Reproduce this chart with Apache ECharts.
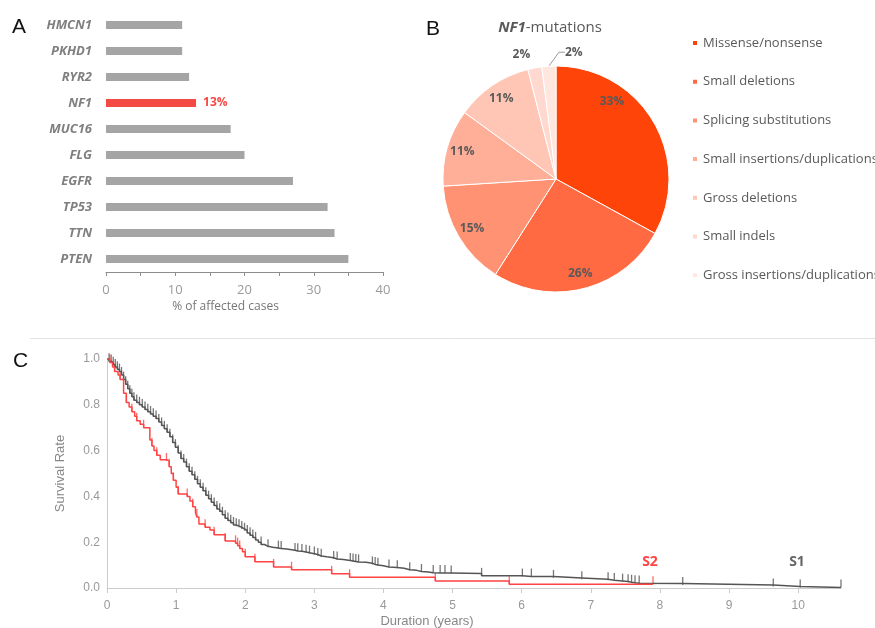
<!DOCTYPE html>
<html><head><meta charset="utf-8">
<script src="https://cdn.jsdelivr.net/npm/echarts@6/dist/echarts.min.js"></script>
<style>html,body{margin:0;padding:0;background:#fff}#c{width:875px;height:628px}</style>
</head><body><div id="c"></div>
<script>
// ---- Panel A data ----
const genes = ['HMCN1','PKHD1','RYR2','NF1','MUC16','FLG','EGFR','TP53','TTN','PTEN'];
const affectedPct = [11, 11, 12, 13, 18, 20, 27, 32, 33, 35];
const barTicks = [0, 10, 20, 30, 40];

// ---- Panel B data ----
const mutationTypes = ['Missense/nonsense','Small deletions','Splicing substitutions','Small insertions/duplications','Gross deletions','Small indels','Gross insertions/duplications'];
const mutationPct = [33, 26, 15, 11, 11, 2, 2];
const mutationColors = ['#fe4408','#ff6a42','#ff9272','#ffae98','#ffc6b6','#ffd9cf','#ffe7e0'];

// ---- Panel C data: [years, survival rate, censor tick (1/0)] ----
const s1Curve = [
 [0,1.0,0],[0.03,0.99,1],[0.06,0.985,1],[0.09,0.975,1],[0.12,0.965,1],[0.15,0.955,1],[0.18,0.945,1],
 [0.21,0.93,1],[0.24,0.91,1],[0.27,0.89,1],[0.30,0.87,1],[0.33,0.85,1],[0.36,0.835,1],[0.39,0.82,1],
 [0.43,0.81,1],[0.47,0.80,1],[0.51,0.79,1],[0.55,0.78,1],[0.59,0.77,1],[0.63,0.76,1],[0.67,0.75,1],
 [0.71,0.74,1],[0.75,0.725,1],[0.79,0.71,1],[0.83,0.695,1],[0.87,0.68,1],[0.91,0.66,1],[0.95,0.635,1],
 [0.99,0.615,1],[1.03,0.59,1],[1.07,0.565,1],[1.11,0.55,1],[1.15,0.53,1],[1.19,0.51,1],[1.23,0.495,1],
 [1.27,0.475,1],[1.31,0.455,1],[1.35,0.44,1],[1.39,0.425,1],[1.43,0.405,1],[1.47,0.39,1],[1.51,0.375,1],
 [1.55,0.36,1],[1.59,0.345,1],[1.63,0.335,1],[1.67,0.32,1],[1.71,0.305,1],[1.75,0.295,1],[1.79,0.285,1],
 [1.83,0.275,1],[1.87,0.27,1],[1.91,0.265,1],[1.95,0.258,1],[1.99,0.25,1],[2.03,0.24,1],[2.07,0.23,1],
 [2.11,0.22,1],[2.15,0.21,1],[2.19,0.2,0],[2.23,0.19,1],[2.28,0.182,0],[2.33,0.178,1],[2.40,0.175,0],
 [2.48,0.172,1],[2.52,0.17,1],[2.60,0.165,0],[2.72,0.162,1],[2.76,0.16,1],[2.82,0.157,1],[2.88,0.154,1],
 [2.93,0.15,1],[3.0,0.146,1],[3.05,0.14,1],[3.1,0.136,1],[3.18,0.132,0],[3.28,0.127,1],[3.33,0.124,1],
 [3.42,0.12,0],[3.52,0.118,1],[3.56,0.116,1],[3.6,0.114,1],[3.64,0.112,1],[3.75,0.108,0],[3.84,0.103,1],
 [3.88,0.1,1],[3.92,0.097,1],[4.0,0.092,0],[4.08,0.09,1],[4.2,0.086,1],[4.3,0.08,0],[4.38,0.077,1],
 [4.48,0.072,0],[4.55,0.07,1],[4.65,0.067,0],[4.72,0.066,1],[4.82,0.065,1],[4.89,0.065,1],[4.98,0.063,1],
 [5.42,0.053,1],[6.01,0.05,1],[6.14,0.05,1],[6.46,0.044,1],[6.87,0.038,1],[7.25,0.034,1],[7.34,0.031,1],
 [7.46,0.028,1],[7.54,0.025,1],[7.59,0.023,1],[7.64,0.021,1],[7.7,0.02,1],[8.33,0.013,1],[9.64,0.007,1],
 [10.03,0.002,1],[10.62,0.002,1]
];
const s2Curve = [
 [0,1.0,0],[0.04,0.985,1],[0.08,0.965,0],[0.11,0.945,1],[0.16,0.93,0],[0.19,0.91,1],[0.24,0.85,0],
 [0.28,0.81,1],[0.32,0.79,0],[0.36,0.77,1],[0.40,0.75,0],[0.43,0.73,1],[0.48,0.715,0],[0.53,0.70,1],
 [0.62,0.646,0],[0.65,0.62,1],[0.68,0.60,0],[0.72,0.58,1],[0.77,0.56,0],[0.86,0.555,1],[0.9,0.53,1],
 [0.93,0.5,0],[0.96,0.47,1],[1.0,0.44,0],[1.03,0.41,1],[1.16,0.40,1],[1.2,0.38,0],[1.24,0.355,1],
 [1.28,0.33,0],[1.3,0.31,1],[1.33,0.28,0],[1.42,0.265,1],[1.49,0.253,0],[1.55,0.232,1],[1.71,0.205,1],
 [1.86,0.195,1],[1.89,0.185,1],[1.92,0.173,1],[1.96,0.158,0],[2.0,0.137,1],[2.14,0.115,1],[2.41,0.092,1],
 [2.67,0.08,1],[3.25,0.062,1],[3.51,0.047,1],[4.75,0.031,1],[5.82,0.016,1],[7.9,0.016,1]
];
const survivalTicks = [0, 0.2, 0.4, 0.6, 0.8, 1.0];

const RED = '#f44a46';
const CRED = '#ff4343';
const GREY_LINE = '#555555';

const chart = echarts.init(document.getElementById('c'), null, {renderer: 'canvas'});

const barData = affectedPct.map((v, i) => genes[i] === 'NF1'
  ? {value: v, itemStyle: {color: RED}, label: {show: true, position: 'right', distance: 7, formatter: '{c}%', color: RED, fontWeight: 'bold', fontSize: 12}}
  : v);

const pieData = mutationPct.map((v, i) => ({name: mutationTypes[i], value: v, itemStyle: {color: mutationColors[i]}}));
const ringData = mutationPct.map((v, i) => {
  const d = {name: mutationTypes[i], value: v};
  if (i === 5) { d.label = {position: 'outside', distanceToLabelLine: 2}; d.labelLine = {show: false, length: 14, length2: 0}; }
  if (i === 6) { d.label = {position: 'outside'}; d.labelLine = {show: true, length: 6, length2: 6, lineStyle: {color: '#9a9a9a', width: 1}}; }
  return d;
});

const option = {
  animation: false,
  textStyle: {fontFamily: 'Open Sans'},
  grid: [
    {left: 106, top: 12, width: 277, height: 260},
    {left: 107, top: 359, width: 734, height: 229}
  ],
  legend: {
    data: mutationTypes, orient: 'vertical', left: 691, top: 35, padding: 0,
    itemWidth: 6, itemHeight: 6, itemGap: 22.7, icon: 'rect', selectedMode: false,
    textStyle: {color: '#595959', fontSize: 13, lineHeight: 16, fontFamily: 'Open Sans'}
  },
  xAxis: [
    {gridIndex: 0, type: 'value', min: barTicks[0], max: barTicks[barTicks.length - 1], interval: 10,
     axisLine: {show: true, lineStyle: {color: '#8c8c8c'}},
     axisTick: {show: true, length: 4, lineStyle: {color: '#8c8c8c'}},
     minorTick: {show: true, splitNumber: 2, length: 4, lineStyle: {color: '#8c8c8c'}},
     splitLine: {show: false}, minorSplitLine: {show: false},
     axisLabel: {color: '#9a9a9a', fontSize: 13, margin: 12},
     name: '% of affected cases', nameLocation: 'middle', nameGap: 29,
     nameTextStyle: {color: '#777', fontSize: 12, padding: [0, 38, 0, 0]}},
    {gridIndex: 1, type: 'value', min: 0, max: 10.62, interval: 1,
     axisLine: {show: true, lineStyle: {color: '#cccccc'}},
     axisTick: {show: true, length: 5, lineStyle: {color: '#cccccc'}},
     splitLine: {show: false},
     axisLabel: {color: '#999', fontSize: 12, margin: 12, showMaxLabel: false, fontFamily: 'Liberation Sans'}}
  ],
  yAxis: [
    {gridIndex: 0, type: 'category', data: genes, inverse: true,
     axisLine: {show: false}, axisTick: {show: false},
     axisLabel: {color: '#7f7f7f', fontWeight: 'bold', fontStyle: 'italic', fontSize: 13, margin: 14}},
    {gridIndex: 1, type: 'value', min: survivalTicks[0], max: survivalTicks[survivalTicks.length - 1], interval: 0.2,
     axisLine: {show: true, lineStyle: {color: '#cccccc'}}, axisTick: {show: false}, splitLine: {show: false},
     axisLabel: {formatter: v => v.toFixed(1), color: '#999', fontSize: 12, margin: 7, fontFamily: 'Liberation Sans'},
     name: 'Survival Rate', nameLocation: 'middle', nameRotate: 90, nameGap: 40,
     nameTextStyle: {color: '#888', fontSize: 13, fontFamily: 'Liberation Sans'}}
  ],
  series: [
    {type: 'bar', xAxisIndex: 0, yAxisIndex: 0, data: barData, barWidth: 8, itemStyle: {color: '#a5a5a5'}},
    {type: 'pie', center: [556, 179], radius: [0, 113], startAngle: 90, clockwise: true,
     label: {show: false}, labelLine: {show: false},
     itemStyle: {borderColor: '#fff', borderWidth: 1}, emphasis: {disabled: true}, data: pieData},
    {type: 'pie', center: [556, 179], radius: [76, 113], startAngle: 90, clockwise: true, silent: true,
     avoidLabelOverlap: false,
     itemStyle: {color: 'rgba(0,0,0,0)', borderWidth: 0},
     label: {show: true, position: 'inside', formatter: '{c}%', color: '#595959', fontWeight: 'bold', fontSize: 12},
     labelLine: {show: false},
     labelLayout: function (p) {
       if (p.dataIndex === 0) return {dx: -28, dy: -28};
       if (p.dataIndex === 6 && p.labelLinePoints) {
         const p0 = p.labelLinePoints[0];
         return {x: p0[0] + 16, y: p0[1] - 14, align: 'left', verticalAlign: 'middle'};
       }
       return {};
     },
     data: ringData},
    {type: 'line', name: 'S1', xAxisIndex: 1, yAxisIndex: 1, step: 'end', showSymbol: false, silent: true,
     lineStyle: {color: GREY_LINE, width: 1.5}, data: s1Curve.map(d => [d[0], d[1]])},
    {type: 'scatter', xAxisIndex: 1, yAxisIndex: 1, symbol: 'rect', symbolSize: [1.3, 8], symbolOffset: [0, -4], silent: true,
     itemStyle: {color: GREY_LINE}, data: s1Curve.filter(d => d[2]).map(d => [d[0], d[1]])},
    {type: 'line', name: 'S2', xAxisIndex: 1, yAxisIndex: 1, step: 'end', showSymbol: false, silent: true,
     lineStyle: {color: CRED, width: 1.5}, data: s2Curve.map(d => [d[0], d[1]])},
    {type: 'scatter', xAxisIndex: 1, yAxisIndex: 1, symbol: 'rect', symbolSize: [1.3, 8], symbolOffset: [0, -4], silent: true,
     itemStyle: {color: CRED}, data: s2Curve.filter(d => d[2]).map(d => [d[0], d[1]])}
  ],
  graphic: [
    {type: 'text', x: 12, y: 17, style: {text: 'A', fontSize: 21, fontFamily: 'Liberation Sans', fill: '#111'}},
    {type: 'text', x: 426, y: 19, style: {text: 'B', fontSize: 21, fontFamily: 'Liberation Sans', fill: '#111'}},
    {type: 'text', x: 13, y: 351, style: {text: 'C', fontSize: 21, fontFamily: 'Liberation Sans', fill: '#111'}},
    {type: 'line', shape: {x1: 30, y1: 338.5, x2: 875, y2: 338.5}, style: {stroke: '#e2e2e2', lineWidth: 1}},
    {type: 'text', x: 550, y: 28, style: {text: '{b|NF1}-mutations', align: 'center', verticalAlign: 'middle',
      fontSize: 15, fontFamily: 'Open Sans', fill: '#595959',
      rich: {b: {fontWeight: 'bold', fontStyle: 'italic', fontSize: 15, fontFamily: 'Open Sans', fill: '#595959'}}}},
    {type: 'text', x: 650, y: 562, style: {text: 'S2', align: 'center', verticalAlign: 'middle', fontSize: 14, fontWeight: 'bold', fontFamily: 'Open Sans', fill: CRED}},
    {type: 'text', x: 797, y: 562, style: {text: 'S1', align: 'center', verticalAlign: 'middle', fontSize: 14, fontWeight: 'bold', fontFamily: 'Open Sans', fill: '#666'}},
    {type: 'text', x: 427, y: 621, style: {text: 'Duration (years)', align: 'center', verticalAlign: 'middle', fontSize: 13, fontFamily: 'Liberation Sans', fill: '#888'}}
  ]
};
chart.setOption(option);
</script>
</body></html>
